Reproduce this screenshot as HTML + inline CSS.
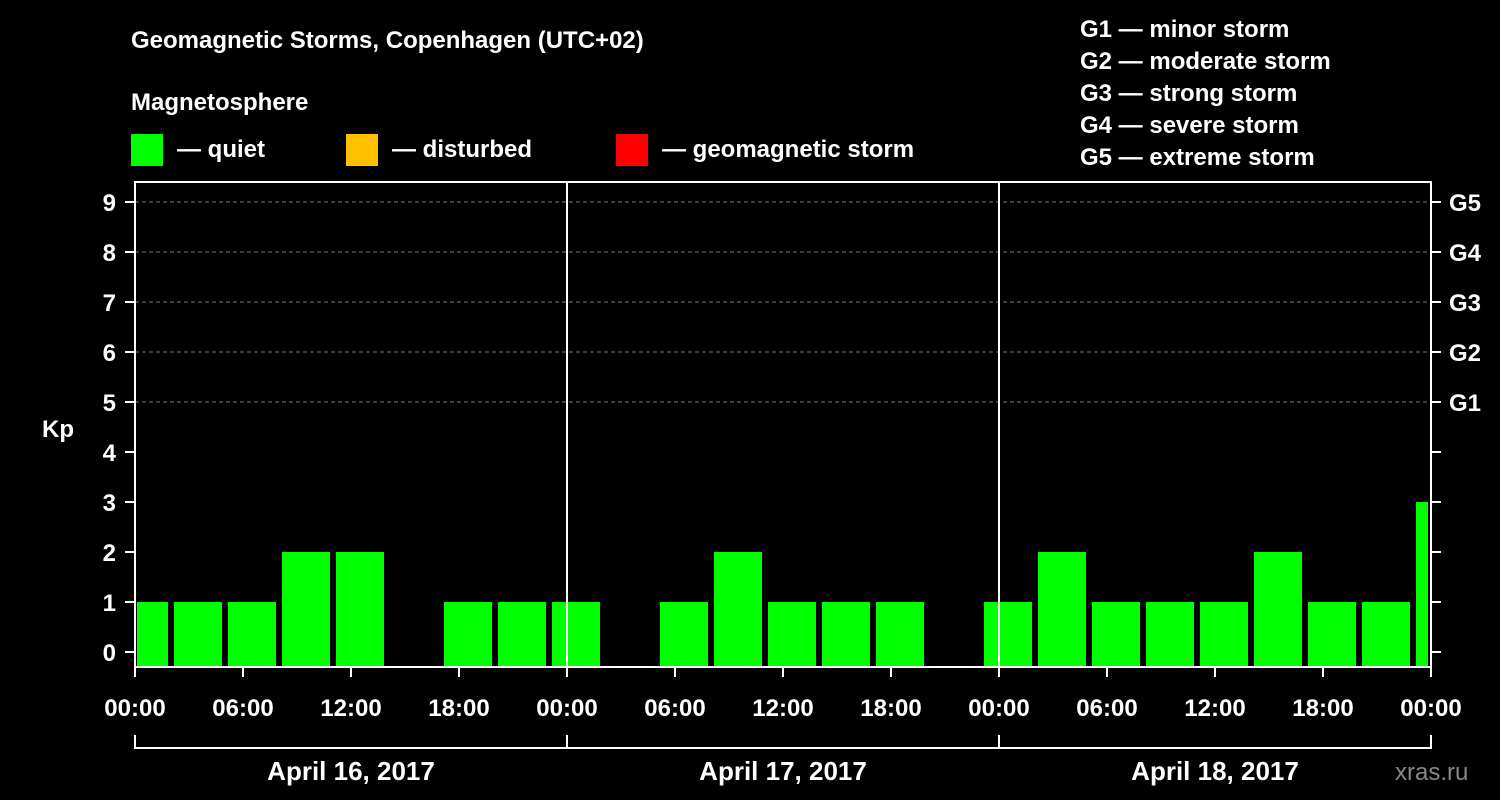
<!DOCTYPE html>
<html><head><meta charset="utf-8"><style>
html,body{margin:0;padding:0;background:#000;}
svg{display:block;font-family:"Liberation Sans",Arial,sans-serif;font-weight:bold;}
</style></head><body>
<svg id="chart" width="1500" height="800" viewBox="0 0 1500 800" xmlns="http://www.w3.org/2000/svg">
<rect width="1500" height="800" fill="#000"/>
<text x="131" y="48" fill="#fff" font-size="24">Geomagnetic Storms, Copenhagen (UTC+02)</text>
<text x="131" y="110" fill="#fff" font-size="24">Magnetosphere</text>
<rect x="131" y="134" width="32" height="32" fill="#00ff00"/>
<text x="177" y="157" fill="#fff" font-size="24">— quiet</text>
<rect x="346" y="134" width="32" height="32" fill="#ffc000"/>
<text x="392" y="157" fill="#fff" font-size="24">— disturbed</text>
<rect x="616" y="134" width="32" height="32" fill="#ff0000"/>
<text x="662" y="157" fill="#fff" font-size="24">— geomagnetic storm</text>
<g fill="#fff" font-size="24">
<text x="1080" y="37">G1 — minor storm</text>
<text x="1080" y="69">G2 — moderate storm</text>
<text x="1080" y="101">G3 — strong storm</text>
<text x="1080" y="133">G4 — severe storm</text>
<text x="1080" y="165">G5 — extreme storm</text>
</g>
<text x="42" y="437" fill="#fff" font-size="24">Kp</text>
<text x="1395" y="780" fill="#888" font-size="24" font-weight="normal">xras.ru</text>
<g id="grid"></g>
<g id="bars"></g>
<g id="axes"></g>
</svg>
<script>
const values = [1,1,1,2,2,null,1,1,1,null,1,2,1,1,1,null,1,2,1,1,1,2,1,1,3];
const xTickLabels = ["00:00","06:00","12:00","18:00","00:00","06:00","12:00","18:00","00:00","06:00","12:00","18:00","00:00"];
const dayLabels = ["April 16, 2017","April 17, 2017","April 18, 2017"];
const gLabels = ["G1","G2","G3","G4","G5"];
const yTicks = [0,1,2,3,4,5,6,7,8,9];

const NS = "http://www.w3.org/2000/svg";
const L = 135, R = 1431, T = 182, B = 667;
const hourPx = (R - L) / 72;
const x = h => L + h * hourPx;
const y = v => 652 - v * 50;
function mk(tag, attrs, parent, text) {
  const e = document.createElementNS(NS, tag);
  for (const k in attrs) e.setAttribute(k, attrs[k]);
  if (text !== undefined) e.textContent = text;
  parent.appendChild(e);
  return e;
}
const grid = document.getElementById('grid');
const bars = document.getElementById('bars');
const axes = document.getElementById('axes');

// grid lines for 5..9
for (let v = 5; v <= 9; v++) {
  const g = mk('line', {x1: L, x2: R, y1: y(v), y2: y(v), stroke: '#777', 'stroke-dasharray': '4,3', 'stroke-width': 1}, grid);
  
  
}
// bars: first slot is partial (-1h..2h), then 3h slots starting 02:00
values.forEach((v, i) => {
  if (v === null) return;
  const start = i === 0 ? -1 : 2 + 3 * (i - 1);
  let x0 = x(start) + 3, x1 = x(start + 3) - 3;
  x0 = Math.max(x0, L + 2); x1 = Math.min(x1, R - 3);
  const color = v >= 5 ? '#ff0000' : (v >= 4 ? '#ffc000' : '#00ff00');
  const r = mk('rect', {x: x0, y: y(v), width: x1 - x0, height: B - y(v), fill: color}, bars);
  
  
});
// frame
const fr = mk('rect', {x: L, y: T, width: R - L, height: B - T, fill: 'none', stroke: '#fff', 'stroke-width': 2}, axes);


// day separators
[1, 2].forEach(d => {
  const l = mk('line', {x1: x(24 * d), x2: x(24 * d), y1: T, y2: B, stroke: '#fff', 'stroke-width': 2}, axes);
  
  
});
// y ticks
yTicks.forEach(v => {
  mk('line', {x1: L - 10, x2: L, y1: y(v), y2: y(v), stroke: '#fff', 'stroke-width': 2}, axes);
  mk('line', {x1: R, x2: R + 10, y1: y(v), y2: y(v), stroke: '#fff', 'stroke-width': 2}, axes);
  const t = mk('text', {x: 116, y: y(v) + 9, fill: '#fff', 'font-size': 24, 'text-anchor': 'end'}, axes, String(v));
  
  
});
gLabels.forEach((g, i) => {
  const t = mk('text', {x: 1449, y: y(5 + i) + 9, fill: '#fff', 'font-size': 24}, axes, g);
  
  
});
// x ticks
xTickLabels.forEach((lab, i) => {
  const xx = x(6 * i);
  mk('line', {x1: xx, x2: xx, y1: B, y2: B + 10, stroke: '#fff', 'stroke-width': 2}, axes);
  const t = mk('text', {x: xx, y: 716, fill: '#fff', 'font-size': 24, 'text-anchor': 'middle'}, axes, lab);
  
  
});
// date bracket
mk('line', {x1: L, x2: R, y1: 748, y2: 748, stroke: '#fff', 'stroke-width': 2}, axes);
for (let d = 0; d <= 3; d++) mk('line', {x1: x(24 * d), x2: x(24 * d), y1: 735, y2: 749, stroke: '#fff', 'stroke-width': 2}, axes);
dayLabels.forEach((lab, d) => {
  const t = mk('text', {x: x(24 * d + 12), y: 780, fill: '#fff', 'font-size': 26, 'text-anchor': 'middle'}, axes, lab);
  
  
});
</script>
</body></html>
